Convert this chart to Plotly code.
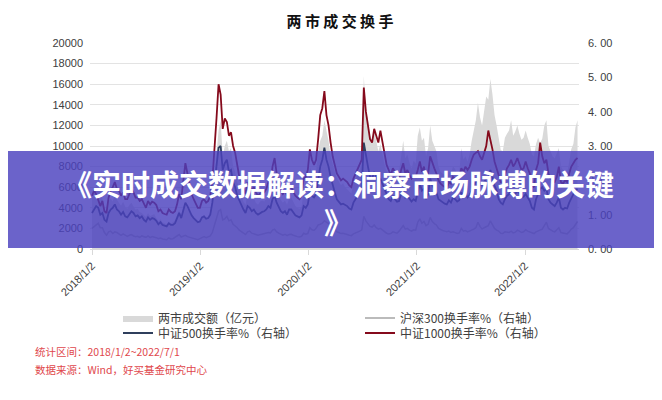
import pandas as pd
import plotly.graph_objects as go

# ---------------- data (weekly readings, 2018/1/2 ~ 2022/6/28) ----------------
dates = pd.date_range("2018-01-02", periods=235, freq="7D")

# 两市成交额（亿元）
turnover_amount = [
    # 2018
    5000, 5600, 6300, 6800, 5900, 4700, 3800, 3600, 4600, 4900, 4600, 5400, 4800,
    4500, 4200, 4600, 4100, 3900, 4300, 4500, 4100, 3800, 3900, 3600, 3500, 3300,
    3100, 3500, 3200, 3300, 3400, 3000, 2700, 2900, 2600, 2500, 2400, 2700, 2500,
    2600, 2800, 3300, 3800, 3100, 4100, 4400, 3900, 3600, 3300, 3000, 2800, 2500,
    # 2019
    2700, 3100, 3300, 3000, 3200, 3500, 4800, 7000, 9000, 11500, 12500, 9000, 10000,
    10500, 9500, 9800, 8000, 7500, 6500, 5800, 5300, 4600, 4300, 5500, 5200, 4800,
    4900, 4500, 4300, 4600, 4700, 4600, 4900, 5300, 5200, 6200, 6800, 5600, 5100,
    4800, 4500, 4700, 4300, 4900, 5000, 4600, 4200, 4000, 3900, 4100, 5600, 5200, 5500,
    # 2020
    8000, 7300, 6800, 7600, 9500, 10500, 11000, 12500, 11500, 10500, 9000, 8200, 7500,
    6900, 6500, 6200, 6400, 6000, 5800, 5600, 5400, 6500, 6800, 7200, 7800, 8200,
    16800, 13500, 12500, 11000, 10500, 11500, 10500, 9500, 10200, 9000, 8200, 7500, 6800,
    6800, 7500, 7000, 6900, 7600, 9000, 10500, 8800, 9200, 8400, 7800, 8600, 8300,
    # 2021
    11000, 11800, 10500, 10800, 9000, 9800, 12000, 10500, 10000, 9500, 8000, 7500, 7300,
    7200, 7000, 7500, 7400, 8000, 7800, 7200, 7500, 9800, 8700, 9000, 8500, 9200,
    10500, 11500, 12500, 14200, 12800, 12000, 13200, 14800, 14500, 16500, 15000, 13000, 12000,
    10800, 9600, 9500, 10800, 11200, 11500, 12500, 11000, 11400, 12000, 11200, 10600, 10800,
    # 2022
    11500, 10800, 10200, 9200, 9000, 10200, 10800, 10300, 10700, 12000, 12500, 10000, 9500,
    9000, 8800, 9300, 9800, 8000, 7700, 7600, 7400, 8500, 9700, 10200, 11800, 12500,
]

# 沪深300换手率%（右轴）
hs300_rate = [
    # 2018
    0.60, 0.65, 0.72, 0.75, 0.62, 0.62, 0.48, 0.40, 0.50, 0.52, 0.45, 0.50, 0.48,
    0.45, 0.40, 0.44, 0.40, 0.37, 0.40, 0.42, 0.38, 0.36, 0.37, 0.34, 0.38, 0.35,
    0.34, 0.38, 0.33, 0.36, 0.35, 0.33, 0.30, 0.32, 0.29, 0.28, 0.27, 0.32, 0.29,
    0.30, 0.34, 0.36, 0.42, 0.35, 0.38, 0.40, 0.36, 0.34, 0.33, 0.30, 0.29, 0.27,
    # 2019
    0.30, 0.34, 0.36, 0.33, 0.35, 0.38, 0.48, 0.70, 0.92, 1.10, 1.15, 0.85, 0.88,
    0.95, 0.82, 0.85, 0.72, 0.68, 0.62, 0.55, 0.50, 0.45, 0.42, 0.50, 0.52, 0.46,
    0.45, 0.42, 0.40, 0.42, 0.43, 0.45, 0.46, 0.48, 0.47, 0.55, 0.58, 0.50, 0.46,
    0.42, 0.40, 0.43, 0.39, 0.42, 0.43, 0.40, 0.37, 0.36, 0.35, 0.37, 0.46, 0.43, 0.45,
    # 2020
    0.62, 0.56, 0.54, 0.60, 0.70, 0.72, 0.75, 0.82, 0.78, 0.74, 0.70, 0.62, 0.55,
    0.50, 0.48, 0.45, 0.46, 0.43, 0.42, 0.40, 0.39, 0.44, 0.46, 0.48, 0.52, 0.55,
    0.95, 0.82, 0.75, 0.66, 0.64, 0.70, 0.62, 0.58, 0.60, 0.55, 0.50, 0.46, 0.44,
    0.45, 0.50, 0.47, 0.46, 0.52, 0.62, 0.68, 0.58, 0.60, 0.55, 0.52, 0.56, 0.55,
    # 2021
    0.78, 0.88, 0.75, 0.80, 0.68, 0.72, 0.92, 0.80, 0.74, 0.70, 0.60, 0.56, 0.54,
    0.52, 0.50, 0.52, 0.48, 0.50, 0.48, 0.45, 0.47, 0.60, 0.52, 0.54, 0.50, 0.52,
    0.55, 0.58, 0.62, 0.78, 0.66, 0.58, 0.62, 0.64, 0.68, 0.82, 0.72, 0.60, 0.55,
    0.52, 0.46, 0.45, 0.50, 0.50, 0.48, 0.52, 0.47, 0.49, 0.55, 0.52, 0.48, 0.50,
    # 2022
    0.56, 0.52, 0.50, 0.46, 0.45, 0.50, 0.52, 0.55, 0.58, 0.68, 0.78, 0.60, 0.55,
    0.52, 0.50, 0.55, 0.62, 0.48, 0.46, 0.45, 0.44, 0.50, 0.58, 0.62, 0.72, 0.80,
]

# 中证500换手率%（右轴）
csi500_rate = [
    # 2018
    1.05, 1.15, 1.25, 1.20, 1.00, 1.05, 0.85, 0.80, 1.05, 1.15, 1.20, 1.30, 1.15,
    1.10, 1.00, 1.08, 0.95, 0.92, 1.00, 1.10, 1.05, 0.95, 0.98, 0.90, 0.95, 0.85,
    0.80, 0.92, 0.85, 0.90, 0.88, 0.82, 0.72, 0.78, 0.70, 0.68, 0.66, 0.75, 0.70,
    0.70, 0.75, 0.90, 1.05, 0.90, 1.15, 1.35, 1.25, 1.10, 0.98, 0.90, 0.85, 0.78,
    # 2019
    0.80, 0.92, 0.95, 0.88, 0.90, 1.00, 1.35, 1.90, 2.50, 2.95, 3.00, 2.30, 2.50,
    2.60, 2.25, 2.30, 1.95, 1.80, 1.55, 1.40, 1.30, 1.15, 1.05, 1.25, 1.20, 1.10,
    1.15, 1.05, 1.00, 1.05, 1.08, 1.10, 1.15, 1.25, 1.20, 1.45, 1.55, 1.35, 1.20,
    1.10, 1.05, 1.10, 1.00, 1.15, 1.15, 1.05, 0.98, 0.95, 0.92, 0.98, 1.25, 1.20, 1.30,
    # 2020
    1.65, 1.55, 1.50, 1.60, 2.00, 2.40, 2.60, 2.95, 2.60, 2.40, 2.10, 1.85, 1.65,
    1.45, 1.38, 1.30, 1.32, 1.28, 1.25, 1.18, 1.15, 1.35, 1.45, 1.55, 1.70, 1.80,
    3.10, 2.70, 2.40, 2.10, 2.05, 2.25, 2.10, 1.95, 2.05, 1.90, 1.70, 1.55, 1.45,
    1.40, 1.55, 1.45, 1.38, 1.40, 1.60, 1.70, 1.50, 1.55, 1.45, 1.38, 1.45, 1.40,
    # 2021
    1.65, 1.90, 1.70, 1.75, 1.45, 1.60, 2.05, 1.85, 1.75, 1.65, 1.45, 1.40, 1.35,
    1.32, 1.30, 1.42, 1.35, 1.50, 1.45, 1.38, 1.42, 1.65, 1.55, 1.60, 1.50, 1.58,
    1.70, 1.85, 1.95, 2.05, 1.90, 1.85, 1.95, 2.05, 2.10, 2.30, 2.10, 1.85, 1.70,
    1.45, 1.35, 1.30, 1.45, 1.55, 1.60, 1.70, 1.55, 1.60, 1.70, 1.60, 1.50, 1.52,
    # 2022
    1.60, 1.50, 1.40, 1.20, 1.15, 1.45, 1.60, 1.75, 1.80, 1.70, 1.75, 1.45, 1.35,
    1.30, 1.25, 1.35, 1.50, 1.20, 1.15, 1.20, 1.18, 1.35, 1.50, 1.60, 1.70, 1.75,
]

# 中证1000换手率%（右轴）
csi1000_rate = [
    # 2018
    1.55, 1.70, 1.60, 1.45, 1.25, 1.40, 1.10, 1.05, 1.50, 1.70, 1.80, 1.95, 1.75,
    1.70, 1.55, 1.65, 1.45, 1.45, 1.60, 1.75, 1.65, 1.50, 1.50, 1.40, 1.45, 1.30,
    1.20, 1.40, 1.30, 1.38, 1.35, 1.28, 1.10, 1.15, 1.05, 1.02, 1.00, 1.15, 1.08,
    1.05, 1.10, 1.30, 1.60, 1.45, 1.90, 2.50, 2.20, 1.85, 1.60, 1.45, 1.30, 1.20,
    # 2019
    1.20, 1.40, 1.45, 1.35, 1.40, 1.55, 2.00, 2.80, 3.80, 4.80, 4.50, 3.50, 3.80,
    3.70, 3.30, 3.40, 3.00, 2.80, 2.40, 2.10, 1.95, 1.75, 1.60, 1.95, 1.85, 1.70,
    1.80, 1.65, 1.55, 1.62, 1.65, 1.65, 1.75, 1.95, 1.90, 2.40, 2.65, 2.20, 1.95,
    1.70, 1.60, 1.70, 1.55, 1.75, 1.80, 1.65, 1.55, 1.50, 1.45, 1.55, 2.05, 2.10, 2.30,
    # 2020
    2.90, 2.60, 2.45, 2.60, 3.20, 3.90, 4.10, 4.60, 3.90, 3.60, 3.10, 2.70, 2.45,
    2.20, 2.10, 2.00, 2.05, 2.00, 1.95, 1.85, 1.80, 2.05, 2.20, 2.35, 2.50, 2.60,
    4.70, 4.00, 3.60, 3.20, 3.10, 3.50, 3.30, 3.10, 3.45, 3.10, 2.70, 2.45, 2.30,
    2.15, 2.35, 2.25, 2.10, 2.05, 2.30, 2.50, 2.20, 2.30, 2.15, 2.05, 2.15, 2.10,
    # 2021
    2.30, 2.55, 2.25, 2.40, 2.00, 2.20, 2.70, 2.50, 2.35, 2.20, 2.00, 1.90, 1.85,
    1.80, 1.75, 1.95, 1.90, 2.10, 2.05, 2.00, 2.10, 2.35, 2.25, 2.40, 2.30, 2.40,
    2.60, 2.75, 2.80, 2.85, 2.70, 2.60, 2.80, 3.00, 3.45, 3.20, 2.90, 2.55, 2.35,
    2.10, 1.95, 1.95, 2.15, 2.35, 2.45, 2.60, 2.40, 2.50, 2.65, 2.45, 2.30, 2.35,
    # 2022
    2.55, 2.35, 2.20, 1.85, 1.80, 2.30, 2.50, 3.10, 2.70, 2.50, 2.60, 2.20, 2.05,
    2.00, 1.95, 2.10, 2.40, 1.95, 1.90, 2.00, 1.95, 2.20, 2.40, 2.50, 2.60, 2.65,
]

assert len(turnover_amount) == len(hs300_rate) == len(csi500_rate) == len(csi1000_rate) == len(dates)

year_ticks = ["2018-01-02", "2019-01-02", "2020-01-02", "2021-01-02", "2022-01-02"]
year_labels = ["2018/1/2", "2019/1/2", "2020/1/2", "2021/1/2", "2022/1/2"]
right_ticks = [0, 1, 2, 3, 4, 5, 6]
right_labels = ["0. 00", "1. 00", "2. 00", "3. 00", "4. 00", "5. 00", "6. 00"]

title_text = "两 市 成 交 换 手"
banner_text = "《实时成交数据解读：洞察市场脉搏的关键<br>》"
note_range = "统计区间：2018/1/2~2022/7/1"
note_source = "数据来源：Wind，好买基金研究中心"

# ---------------- figure ----------------
# the page body adds an 8px offset; target coordinates below are page pixels
OFF = 8
W, H = 662 - OFF, 400 - OFF
PL, PR, PT, PB = 90, 579, 43, 249          # plot area in page pixels
ML, MT = PL - OFF, PT - OFF
PW, PH = PR - PL, PB - PT
MR, MB = W - ML - PW, H - MT - PH


def px(x):
    return (x - PL) / PW


def py(y):
    return (PB - y) / PH


CJK = "Noto Sans CJK SC"
LAT = "Liberation Sans, Arial, sans-serif"

fig = go.Figure()

fig.add_trace(go.Scatter(
    x=dates, y=turnover_amount, name="两市成交额（亿元）",
    mode="lines", fill="tozeroy", fillcolor="#d9d9d9",
    line=dict(width=0, color="#d9d9d9"), legend="legend", yaxis="y",
))
fig.add_trace(go.Scatter(
    x=dates, y=hs300_rate, name="沪深300换手率%（右轴）",
    mode="lines", line=dict(width=1.5, color="#a5a5a5"), legend="legend2", yaxis="y2",
))
fig.add_trace(go.Scatter(
    x=dates, y=csi500_rate, name="中证500换手率%（右轴）",
    mode="lines", line=dict(width=1.8, color="#2f3f5c"), legend="legend3", yaxis="y2",
))
fig.add_trace(go.Scatter(
    x=dates, y=csi1000_rate, name="中证1000换手率%（右轴）",
    mode="lines", line=dict(width=1.8, color="#850a1c"), legend="legend4", yaxis="y2",
))

leg_common = dict(orientation="v", xanchor="left", yanchor="middle",
                  bgcolor="rgba(0,0,0,0)", borderwidth=0,
                  font=dict(family=CJK, size=12, color="#404040"))

fig.update_layout(
    width=W, height=H,
    margin=dict(l=ML, r=MR, t=MT, b=MB, autoexpand=False),
    paper_bgcolor="white", plot_bgcolor="white",
    showlegend=True,
    title=dict(text=title_text, x=px(340), xanchor="center", xref="paper",
               y=1 - (22 - OFF) / H, yanchor="middle", yref="container",
               font=dict(family=CJK, size=15, color="#111111", weight="bold")),
    xaxis=dict(
        type="date", range=["2017-12-26 06:00", "2022-07-03"],
        tickvals=year_ticks, ticktext=year_labels, tickangle=-45,
        ticks="outside", ticklen=5, tickcolor="#d9d9d9",
        showgrid=False, showline=True, linecolor="#d9d9d9", zeroline=False,
        tickfont=dict(family=LAT, size=11, color="#404040"),
    ),
    yaxis=dict(
        range=[0, 20000], dtick=2000, tick0=0, tickformat="d",
        showgrid=True, gridcolor="#e3e3e3", gridwidth=1, zeroline=False,
        showline=False, ticks="", ticklabelstandoff=6,
        tickfont=dict(family=LAT, size=11, color="#404040"),
    ),
    yaxis2=dict(
        range=[0, 6], overlaying="y", side="right",
        tickvals=right_ticks, ticktext=right_labels,
        showgrid=False, zeroline=False, showline=False, ticks="",
        ticklabelstandoff=8,
        tickfont=dict(family=LAT, size=11, color="#404040"),
    ),
    legend=dict(x=px(118), y=py(318), **leg_common),
    legend2=dict(x=px(360), y=py(318), **leg_common),
    legend3=dict(x=px(118), y=py(333), **leg_common),
    legend4=dict(x=px(360), y=py(333), **leg_common),
)

# semi-transparent banner across the chart
fig.add_shape(type="rect", xref="paper", yref="paper",
              x0=px(OFF), x1=px(662), y0=py(248), y1=py(151),
              fillcolor="rgba(75,65,190,0.82)", line=dict(width=0), layer="above")

fig.add_annotation(text=banner_text, xref="paper", yref="paper",
                   x=px(338), y=py(202), xanchor="center", yanchor="middle",
                   showarrow=False, align="center",
                   font=dict(family=CJK, size=29, color="white", weight="bold"))

fig.add_annotation(text=note_range, xref="paper", yref="paper",
                   x=px(33), y=py(351), xanchor="left", yanchor="middle",
                   showarrow=False, font=dict(family=CJK, size=10.5, color="#e0474c"))
fig.add_annotation(text=note_source, xref="paper", yref="paper",
                   x=px(33), y=py(369), xanchor="left", yanchor="middle",
                   showarrow=False, font=dict(family=CJK, size=10.5, color="#e0474c"))

fig.write_html("out.html")
